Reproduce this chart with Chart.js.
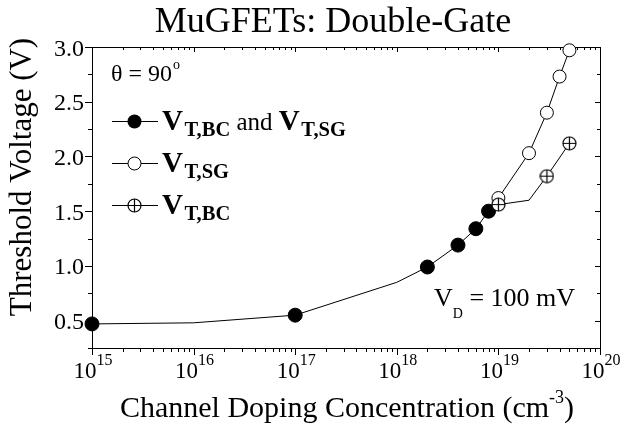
<!DOCTYPE html>
<html lang="en">
<head>
<meta charset="UTF-8">
<title>MuGFETs: Double-Gate</title>
<script src="https://cdn.jsdelivr.net/npm/chart.js"></script>
<style>
    body { margin: 0; background: #fff; }
    #wrap { width: 620px; height: 425px; }
</style>
</head>
<body>
<div id="wrap"><canvas id="vtChart" width="620" height="425"></canvas></div>
<script>
// values: doping (cm^-3) and threshold voltage (V)
const dopingCommon = [1e15, 1e16, 1e17, 1e18, 2e18, 4e18, 6e18, 8e18];
const vtCommon     = [0.47, 0.48, 0.55, 0.85, 0.99, 1.19, 1.34, 1.50];
const markCommon   = [true, false, true, false, true, true, true, true];

const dopingSG = [8e18, 1e19, 2e19, 3e19, 4e19, 5e19];
const vtSG     = [1.50, 1.62, 2.03, 2.40, 2.73, 2.97];
const markSG   = [false, true, true, true, true, true];

const dopingBC = [8e18, 1e19, 2e19, 3e19, 5e19];
const vtBC     = [1.50, 1.56, 1.60, 1.82, 2.12];
const markBC   = [false, true, false, true, true];

// axis ticks
const xExponents = ['15', '16', '17', '18', '19', '20'];
const yMajor = [0.5, 1.0, 1.5, 2.0, 2.5, 3.0];
const yMinor = [0.25, 0.75, 1.25, 1.75, 2.25, 2.75];
const yLabels = ['0.5', '1.0', '1.5', '2.0', '2.5', '3.0'];

const serif = '"Liberation Serif", "Times New Roman", serif';
function font(size, bold) { return (bold ? 'bold ' : '') + size + 'px ' + serif; }

// circle with a plus inside, used for V_T,BC
const crossCircle = document.createElement('canvas');
crossCircle.width = 15; crossCircle.height = 15;
(function () {
    const c = crossCircle.getContext('2d');
    c.fillStyle = '#fff'; c.strokeStyle = '#000'; c.lineWidth = 1.2;
    c.beginPath(); c.arc(7.5, 7.5, 6.5, 0, Math.PI * 2); c.fill(); c.stroke();
    c.beginPath();
    c.moveTo(1, 7.5); c.lineTo(14, 7.5);
    c.moveTo(7.5, 1); c.lineTo(7.5, 14);
    c.stroke();
})();

function pts(xs, ys) { return xs.map((v, i) => ({ x: v, y: ys[i] })); }

function richWidth(ctx, parts) {
    let w = 0;
    parts.forEach(p => { ctx.font = p.font; w += ctx.measureText(p.text).width + (p.dx || 0); });
    return w;
}
function drawRich(ctx, parts, x, y, align) {
    let cx = x;
    if (align === 'center') cx -= richWidth(ctx, parts) / 2;
    if (align === 'right') cx -= richWidth(ctx, parts);
    ctx.textAlign = 'left';
    ctx.textBaseline = 'alphabetic';
    parts.forEach(p => {
        ctx.font = p.font;
        cx += p.dx || 0;
        ctx.fillText(p.text, cx, y + (p.dy || 0));
        cx += ctx.measureText(p.text).width;
    });
}

// box, ticks (under the markers)
const framePlugin = {
    id: 'frame',
    beforeDatasetsDraw(chart) {
        const { ctx, chartArea: a, scales: { x, y } } = chart;
        ctx.save();
        ctx.strokeStyle = '#000';
        ctx.lineWidth = 1;
        ctx.strokeRect(a.left + 0.5, a.top + 0.5, a.right - a.left, a.bottom - a.top);
        ctx.beginPath();
        xExponents.forEach((e, i) => {
            for (let m = 1; m <= 9; m++) {
                if (m > 1 && i === xExponents.length - 1) break;
                const px = Math.round(x.getPixelForValue(m * Math.pow(10, +e))) + 0.5;
                const out = m === 1 ? 7 : 4, inn = m === 1 ? 5 : 3;
                ctx.moveTo(px, a.bottom); ctx.lineTo(px, a.bottom + out);
                ctx.moveTo(px, a.top); ctx.lineTo(px, a.top + inn);
            }
        });
        yMajor.concat(yMinor).forEach((v, i) => {
            const major = i < yMajor.length;
            const py = Math.round(y.getPixelForValue(v)) + 0.5;
            ctx.moveTo(a.left, py); ctx.lineTo(a.left - (major ? 7 : 4), py);
            ctx.moveTo(a.right, py); ctx.lineTo(a.right - (major ? 5 : 3), py);
        });
        ctx.stroke();
        ctx.restore();
    },
    afterDraw(chart) {
        const { ctx, chartArea: a, scales: { x, y } } = chart;
        ctx.save();
        ctx.fillStyle = '#000';

        // tick labels
        xExponents.forEach(e => {
            const px = x.getPixelForValue(Math.pow(10, +e));
            drawRich(ctx, [
                { text: '10', font: font(23) },
                { text: e, font: font(16), dy: -13 }
            ], px + 1, a.bottom + 30, 'center');
        });
        yMajor.forEach((v, i) => {
            ctx.font = font(24);
            ctx.textAlign = 'right';
            ctx.textBaseline = 'alphabetic';
            ctx.fillText(yLabels[i], a.left - 8, y.getPixelForValue(v) + 8.5);
        });

        // titles
        drawRich(ctx, [{ text: 'MuGFETs: Double-Gate', font: font(36) }], 333, 32, 'center');
        drawRich(ctx, [
            { text: 'Channel Doping Concentration (cm', font: font(30) },
            { text: '-3', font: font(18), dy: -14 },
            { text: ')', font: font(30) }
        ], 347, 417, 'center');
        ctx.save();
        ctx.translate(31, 177);
        ctx.rotate(-Math.PI / 2);
        drawRich(ctx, [{ text: 'Threshold Voltage (V)', font: font(31) }], 0, 0, 'center');
        ctx.restore();

        // annotations
        drawRich(ctx, [
            { text: '\u03B8 = 90', font: font(24) },
            { text: 'o', font: font(14), dy: -12, dx: 1 }
        ], 111, 81, 'left');
        drawRich(ctx, [
            { text: 'V', font: font(26) },
            { text: 'D', font: font(14), dy: 12 },
            { text: ' = 100 mV', font: font(26) }
        ], 434, 306, 'left');

        // legend
        const rows = [121, 163, 205];
        ctx.strokeStyle = '#000';
        ctx.lineWidth = 1;
        rows.forEach(ry => {
            ctx.beginPath(); ctx.moveTo(112, ry + 0.5); ctx.lineTo(158, ry + 0.5); ctx.stroke();
        });
        ctx.beginPath(); ctx.arc(134.5, rows[0] + 0.5, 7, 0, Math.PI * 2); ctx.fillStyle = '#000'; ctx.fill();
        ctx.beginPath(); ctx.arc(134.5, rows[1] + 0.5, 6.5, 0, Math.PI * 2);
        ctx.fillStyle = '#fff'; ctx.fill(); ctx.stroke();
        ctx.drawImage(crossCircle, 127, rows[2] - 7);
        ctx.fillStyle = '#000';
        const vt = sub => [
            { text: 'V', font: font(29, true) },
            { text: sub, font: font(20.5, true), dy: 6, dx: 1.5 }
        ];
        drawRich(ctx, vt('T,BC').concat([{ text: ' and ', font: font(25) }], vt('T,SG')), 162, rows[0] + 9, 'left');
        drawRich(ctx, vt('T,SG'), 162, rows[1] + 9, 'left');
        drawRich(ctx, vt('T,BC'), 162, rows[2] + 9, 'left');

        ctx.restore();
    }
};

const ctx = document.getElementById('vtChart').getContext('2d');
const vtChart = new Chart(ctx, {
    type: 'scatter',
    data: {
        datasets: [{
            label: 'V_T,BC',
            data: pts(dopingBC, vtBC),
            showLine: true,
            borderColor: '#000',
            borderWidth: 1,
            pointStyle: crossCircle,
            pointRadius: markBC.map(m => m ? 6.5 : 0),
            clip: false
        }, {
            label: 'V_T,SG',
            data: pts(dopingSG, vtSG),
            showLine: true,
            borderColor: '#000',
            borderWidth: 1,
            pointStyle: 'circle',
            pointRadius: markSG.map(m => m ? 6.5 : 0),
            pointBackgroundColor: '#fff',
            pointBorderColor: '#000',
            pointBorderWidth: 1,
            clip: false
        }, {
            label: 'V_T,BC and V_T,SG',
            data: pts(dopingCommon, vtCommon),
            showLine: true,
            borderColor: '#000',
            borderWidth: 1,
            pointStyle: 'circle',
            pointRadius: markCommon.map(m => m ? 7 : 0),
            pointBackgroundColor: '#000',
            pointBorderColor: '#000',
            pointBorderWidth: 1,
            clip: false
        }]
    },
    options: {
        responsive: false,
        animation: false,
        devicePixelRatio: 1,
        layout: { padding: { left: 92, right: 20, top: 47, bottom: 77 } },
        plugins: {
            legend: { display: false },
            tooltip: { enabled: false }
        },
        elements: { point: { hoverRadius: 7 } },
        scales: {
            x: {
                type: 'logarithmic',
                min: 1e15,
                max: 1e20,
                ticks: { display: false },
                grid: { display: false },
                border: { display: false },
                afterFit: s => { s.height = 0; }
            },
            y: {
                min: 0.25,
                max: 3.0,
                ticks: { display: false },
                grid: { display: false },
                border: { display: false },
                afterFit: s => { s.width = 0; }
            }
        }
    },
    plugins: [framePlugin]
});
</script>
</body>
</html>
